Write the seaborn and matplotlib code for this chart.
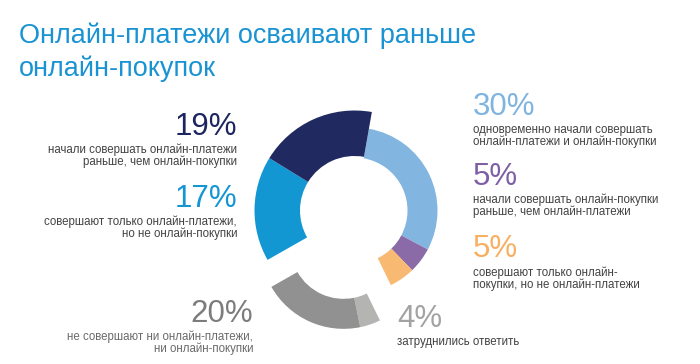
import matplotlib
matplotlib.use("Agg")
import matplotlib.pyplot as plt
import seaborn as sns
import numpy as np

sns.set_theme(style="white")
plt.rcParams['font.family'] = ['Liberation Sans', 'DejaVu Sans']

# ---- data ----
title_lines = ["Онлайн-платежи осваивают раньше", "онлайн-покупок"]
categories = [
    "одновременно начали совершать\nонлайн-платежи и онлайн-покупки",
    "начали совершать онлайн-покупки\nраньше, чем онлайн-платежи",
    "совершают только онлайн-\nпокупки, но не онлайн-платежи",
    "затруднились ответить",
    "не совершают ни онлайн-платежи,\nни онлайн-покупки",
    "совершают только онлайн-платежи,\nно не онлайн-покупки",
    "начали совершать онлайн-платежи\nраньше, чем онлайн-покупки",
]
values = [30, 5, 5, 4, 20, 17, 19]
pct_labels = ["30%", "5%", "5%", "4%", "20%", "17%", "19%"]
colors = ["#82b6e1", "#8a6ba8", "#f8b972", "#b4b4b3", "#929192", "#1397d3", "#202a60"]
wide = [False, False, False, False, False, True, True]    # thicker ring segments
group_shift = [False, False, False, True, True, False, False]  # pulled-out group

W, H = 700, 364
fig = plt.figure(figsize=(W / 100, H / 100), dpi=100)
ax = fig.add_axes([0, 0, 1, 1])

# geometry in pixels (1 unit = outer radius 83 px)
cx, cy, unit = 354.5, 210.5, 83.0
ring_w = 30 / unit
wide_r = 100 / unit
wide_w = 45.5 / unit
shift = 37 / unit

wedges, _ = ax.pie(values, colors=colors, startangle=80, counterclock=False,
                   radius=1.0, wedgeprops=dict(width=ring_w, linewidth=0))

# shift grouped segments along the group bisector
angles = [(w.theta1, w.theta2) for w in wedges]
g_idx = [i for i, g in enumerate(group_shift) if g]
t1 = min(angles[i][0] for i in g_idx)
t2 = max(angles[i][1] for i in g_idx)
mid = np.deg2rad((t1 + t2) / 2)
off = (shift * np.cos(mid), shift * np.sin(mid))

for i, w in enumerate(wedges):
    if wide[i]:
        w.set_radius(wide_r)
        w.set_width(wide_w)
    if group_shift[i]:
        w.set_center(off)

ax.set_aspect('auto')
ax.set_xlim(-cx / unit, (W - cx) / unit)
ax.set_ylim(-(H - cy) / unit, cy / unit)
ax.axis('off')


def fx(x):
    return x / W


def fy(y):
    return 1 - y / H


# title
title_color = "#1a93d3"
fig.text(fx(19), fy(42.7), title_lines[0], color=title_color, fontsize=19.5,
         ha='left', va='baseline')
fig.text(fx(19), fy(76), title_lines[1], color=title_color, fontsize=19.5,
         ha='left', va='baseline')

desc_color = "#434343"
pct_size = 22.5
desc_size = 8.3
line_gap = 12.3

# (x, pct baseline, desc first baseline, ha, desc colour)
layout = [
    (473, 115, 133, 'left', desc_color),
    (473, 185, 203, 'left', desc_color),
    (473, 257, 276, 'left', desc_color),
    (397, 327, 345, 'left', desc_color),
    (253, 322, 340, 'right', "#6a6a6a"),
    (237, 207, 225, 'right', desc_color),
    (237, 135, 153, 'right', desc_color),
]
pct_colors = ["#7fb4e0", "#7e5fa6", "#f7b062", "#a3a3a3", "#7c7c7c", "#1396d3", "#1d2560"]

for i, (x, yb, yd, ha, dc) in enumerate(layout):
    fig.text(fx(x), fy(yb), pct_labels[i], color=pct_colors[i], fontsize=pct_size,
             ha=ha, va='baseline')
    for j, line in enumerate(categories[i].split("\n")):
        fig.text(fx(x), fy(yd + j * line_gap), line, color=dc, fontsize=desc_size,
                 ha=ha, va='baseline')

fig.savefig("out.png", dpi=100)
